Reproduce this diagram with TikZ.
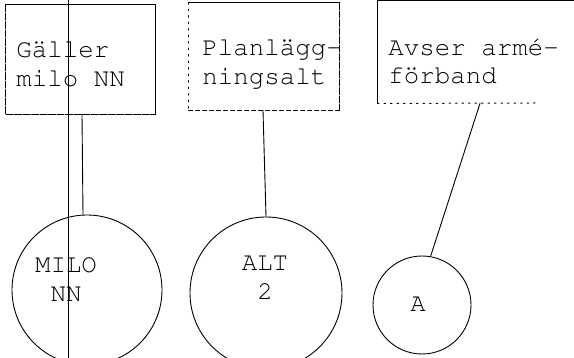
\documentclass[tikz,border=0pt]{standalone}
\usepackage[T1]{fontenc}
\renewcommand{\ttdefault}{pcr}
\begin{document}
\begin{tikzpicture}[x=1pt, y=-1pt, line join=round, line cap=round, line width=0.9pt,
	typed/.style={font=\ttfamily\fontsize{25.8}{29}\selectfont, inner sep=0pt},
	card/.style={rectangle, inner sep=0pt},
	ring/.style={circle, draw, inner sep=0pt},
	rough/.style={dash pattern=on 7pt off 1.5pt},
	faint/.style={line width=1pt, dash pattern=on 1.5pt off 5pt}]
	\useasboundingbox (0,0) rectangle (574,358);
	\clip (0,0) rectangle (574,358);
	\node[card, minimum width=149pt, minimum height=109pt] (gb) at (80.5,59.5) {};
	\node[card, minimum width=150pt, minimum height=107pt] (pb) at (264,56.5) {};
	\node[card, minimum width=242pt, minimum height=102pt] (ab) at (499,52) {};
	\node[typed, anchor=west, align=left] (gt) at (16,64) {G\"aller\\milo NN};
	\node[typed, anchor=west, align=left] (pt) at (202,64) {Planl\"agg-\\ningsalt};
	\node[typed, anchor=west, align=left, font=\ttfamily\fontsize{25.8}{28}\selectfont] (at) at (388,61) {Avser arm\'e-\\f\"orband};
	\node[ring, minimum size=150pt] (mc) at (87,290) {};
	\node[ring, minimum size=152pt] (lc) at (266,293) {};
	\node[ring, minimum size=98pt] (xc) at (422,305) {};
	\node[typed, align=center] (mt) at (66,280) {MILO\\NN};
	\node[typed, align=center] (lt) at (265,278) {ALT\\2};
	\node[typed] (xt) at (418,304) {A};
	\coordinate (aend) at (535,103);
	\coordinate (top) at (68,0);
	\coordinate (bot) at (68,358);
	\draw (gb.north west)--(gb.north east)--(gb.south east);
	\draw[rough] (gb.north west)--(gb.south west)--(gb.south east);
	\draw (pb.north west)--(pb.north east);
	\draw[rough] (pb.north east)--(pb.south east);
	\draw[faint] (pb.north west)--(pb.south west);
	\draw[dash pattern=on 4pt off 3pt] (pb.south west)--(pb.south east);
	\draw (ab.south west)--(ab.north west)--(ab.north east);
	\draw[faint] (ab.south west)--(aend);
	\draw ([xshift=1.5pt]gb.south)--([xshift=-4pt]mc.north);
	\draw ([xshift=-1pt]pb.south)--(lc.north);
	\draw ([xshift=-19pt]ab.south)--(xc.80);
	\draw[line width=0.8pt] (top)--(bot);
\end{tikzpicture}
\end{document}
